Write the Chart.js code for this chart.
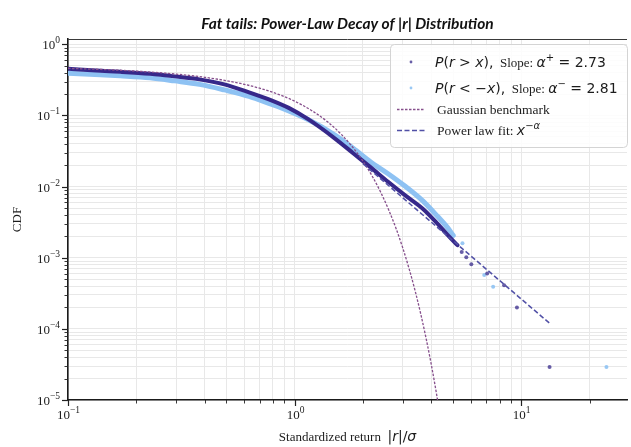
<!DOCTYPE html>
<html>
<head>
<meta charset="utf-8">
<title>Fat tails</title>
<script src="https://cdn.jsdelivr.net/npm/chart.js@4.4.1/dist/chart.umd.min.js"></script>
<style>
    html, body { margin: 0; padding: 0; background: #fff; overflow: hidden; }
    #wrap { width: 631px; height: 447px; position: relative; }
</style>
</head>
<body>
<div id="wrap"><canvas id="cdf"></canvas></div>
<script>
(function () {
    // Empirical tail CDF of positive returns, P(r > x)
    var posX = [0.1, 0.139, 0.17, 0.23, 0.295, 0.38, 0.489, 0.629, 0.769, 0.941, 1.15, 1.51, 1.81, 2.17, 2.58, 3.06, 3.67, 4.27, 4.72, 5.22];
    var posY = [0.453, 0.425, 0.411, 0.385, 0.355, 0.322, 0.274, 0.212, 0.169, 0.128, 0.088, 0.047, 0.0295, 0.0185, 0.0117, 0.0076, 0.0049, 0.0030, 0.0021, 0.0015];
    var posTailX = [5.45, 5.71, 6.01, 7.06, 8.38, 9.55, 13.3];
    var posTailY = [0.0012, 0.00102, 0.00081, 0.0006, 0.00041, 0.0002, 0.000029];

    // Empirical tail CDF of negative returns, P(r < -x)
    var negX = [0.1, 0.139, 0.17, 0.23, 0.295, 0.38, 0.489, 0.629, 0.769, 0.941, 1.15, 1.51, 1.81, 2.17, 2.58, 3.06, 3.67, 4.27, 4.72, 5.0];
    var negY = [0.392, 0.373, 0.361, 0.339, 0.307, 0.274, 0.229, 0.186, 0.148, 0.116, 0.087, 0.0527, 0.0346, 0.022, 0.0152, 0.0102, 0.0063, 0.0038, 0.00265, 0.00205];
    var negTailX = [5.49, 6.85, 7.5, 23.7];
    var negTailY = [0.0016, 0.00057, 0.00039, 0.000029];

    // Gaussian benchmark tail
    var gaussX = [0.1, 0.15, 0.2, 0.3, 0.4, 0.5, 0.6, 0.7, 0.8, 0.9, 1.0, 1.2, 1.4, 1.6, 1.8, 2.0, 2.2, 2.4, 2.6, 2.8, 3.0, 3.2, 3.4, 3.6, 3.8, 4.0, 4.2, 4.4];
    var gaussY = [0.4602, 0.4404, 0.4207, 0.3821, 0.3446, 0.3085, 0.2743, 0.2420, 0.2119, 0.1841, 0.1587, 0.1151, 0.0808, 0.0548, 0.0359, 0.02275, 0.0139, 0.0082, 0.00466, 0.00256, 0.00135, 0.000687, 0.000337, 0.000159, 0.0000723, 0.0000317, 0.0000133, 0.0000054];

    // Power law fit segment
    var fitX = [2.0, 13.3];
    var fitY = [0.021, 0.00012];

    var alphaPos = 2.73;
    var alphaNeg = 2.81;

    var xRange = [0.1, 29.2];
    var yRange = [1e-5, 1.19];

    var colors = {
        pos: '#36288a',
        posDot: 'rgba(54, 40, 138, 0.75)',
        neg: '#8ec2f3',
        negDot: 'rgba(142, 194, 243, 0.9)',
        gauss: '#864f8c',
        fit: '#5150a6',
        grid: '#e8e8e8',
        ink: '#1c1c1c'
    };

    var serif = '"Liberation Serif", "Times New Roman", serif';
    var mathIt = 'italic 14px "DejaVu Sans"';
    var mathRm = '14px "DejaVu Sans"';
    var mathSup = '10px "DejaVu Sans"';

    function pts(xs, ys) {
        return xs.map(function (x, i) { return { x: x, y: ys[i] }; });
    }

    function isDecade(v) {
        var e = Math.log10(v);
        return Math.abs(e - Math.round(e)) < 1e-9;
    }

    function exponent(v) {
        return String(Math.round(Math.log10(v))).replace('-', '\u2212');
    }

    function logTicks(lo, hi, min, max) {
        var out = [];
        for (var e = lo; e <= hi; e++) {
            for (var m = 1; m < 10; m++) {
                var v = m * Math.pow(10, e);
                if (v >= min * 0.9999 && v <= max) {
                    out.push({ value: v });
                }
            }
        }
        return out;
    }

    function drawRuns(ctx, x, y, runs) {
        runs.forEach(function (r) {
            ctx.font = r.f;
            ctx.fillText(r.t, x, y + (r.dy || 0));
            x += ctx.measureText(r.t).width;
        });
        return x;
    }

    function runsWidth(ctx, runs) {
        return runs.reduce(function (w, r) {
            ctx.font = r.f;
            return w + ctx.measureText(r.t).width;
        }, 0);
    }

    function powerRuns(v) {
        return [
            { t: '10', f: '13px ' + serif },
            { t: exponent(v), f: '9.5px ' + serif, dy: -6 }
        ];
    }

    function line(ctx, x1, y1, x2, y2) {
        ctx.beginPath();
        ctx.moveTo(x1, y1);
        ctx.lineTo(x2, y2);
        ctx.stroke();
    }

    // frame top edge, tick marks and labels, title, axis titles and legend
    var decor = {
        id: 'decor',
        afterDraw: function (chart) {
            var ctx = chart.ctx;
            var a = chart.chartArea;
            var xs = chart.scales.x;
            var ys = chart.scales.y;

            ctx.save();
            ctx.strokeStyle = '#3a3a3a';
            ctx.lineWidth = 1;
            line(ctx, a.left, a.top + 0.5, a.right, a.top + 0.5);

            ctx.strokeStyle = '#222';
            ctx.fillStyle = colors.ink;
            ctx.textAlign = 'left';
            ctx.textBaseline = 'alphabetic';
            xs.ticks.forEach(function (t) {
                var p = Math.round(xs.getPixelForValue(t.value)) + 0.5;
                var major = isDecade(t.value);
                ctx.lineWidth = major ? 1.2 : 0.9;
                line(ctx, p, a.bottom, p, a.bottom + (major ? 6 : 3.5));
                if (major) {
                    var runs = powerRuns(t.value);
                    drawRuns(ctx, p - runsWidth(ctx, runs) / 2, a.bottom + 19, runs);
                }
            });
            ys.ticks.forEach(function (t) {
                var p = Math.round(ys.getPixelForValue(t.value)) + 0.5;
                var major = isDecade(t.value);
                ctx.lineWidth = major ? 1.2 : 0.9;
                line(ctx, a.left, p, a.left - (major ? 6 : 3.5), p);
                if (major) {
                    var runs = powerRuns(t.value);
                    drawRuns(ctx, a.left - 8 - runsWidth(ctx, runs), p + 4.5, runs);
                }
            });

            // title
            ctx.fillStyle = '#111';
            ctx.textAlign = 'center';
            ctx.font = 'italic bold 15.5px Lato';
            ctx.fillText('Fat tails: Power-Law Decay of |r| Distribution', (a.left + a.right) / 2, 29);

            // axis titles
            ctx.textAlign = 'left';
            ctx.fillStyle = colors.ink;
            var xTitle = [
                { t: 'Standardized return  ', f: '13px ' + serif },
                { t: '|', f: mathRm },
                { t: 'r', f: mathIt },
                { t: '|/', f: mathRm },
                { t: '\u03c3', f: mathIt }
            ];
            drawRuns(ctx, (a.left + a.right) / 2 - runsWidth(ctx, xTitle) / 2, 441, xTitle);

            ctx.save();
            ctx.translate(21, (a.top + a.bottom) / 2);
            ctx.rotate(-Math.PI / 2);
            ctx.textAlign = 'center';
            ctx.font = '13px ' + serif;
            ctx.fillText('CDF', 0, 0);
            ctx.restore();

            // legend
            var bx = 390, by = 44, bw = 237, bh = 103;
            ctx.beginPath();
            ctx.roundRect(bx + 0.5, by + 0.5, bw, bh, 4);
            ctx.fillStyle = 'rgba(255, 255, 255, 0.85)';
            ctx.fill();
            ctx.strokeStyle = '#d4d4d4';
            ctx.lineWidth = 1;
            ctx.stroke();

            ctx.fillStyle = colors.posDot;
            ctx.beginPath();
            ctx.arc(411, 62, 1.4, 0, Math.PI * 2);
            ctx.fill();
            ctx.fillStyle = colors.negDot;
            ctx.beginPath();
            ctx.arc(411, 88, 1.4, 0, Math.PI * 2);
            ctx.fill();

            ctx.lineWidth = 1.3;
            ctx.strokeStyle = colors.gauss;
            ctx.setLineDash([2.5, 1.5]);
            line(ctx, 397, 109.5, 425, 109.5);
            ctx.strokeStyle = colors.fit;
            ctx.lineWidth = 1.5;
            ctx.setLineDash([5, 2.5]);
            line(ctx, 397, 130.5, 425, 130.5);
            ctx.setLineDash([]);

            ctx.fillStyle = colors.ink;
            var tx = 435;
            drawRuns(ctx, tx, 67, [
                { t: 'P', f: mathIt }, { t: '(', f: mathRm }, { t: 'r', f: mathIt }, { t: ' > ', f: mathRm },
                { t: 'x', f: mathIt }, { t: '),', f: mathRm }, { t: '  Slope: ', f: '13px ' + serif },
                { t: '\u03b1', f: mathIt }, { t: '+', f: mathSup, dy: -6 }, { t: ' = ' + alphaPos.toFixed(2), f: mathRm }
            ]);
            drawRuns(ctx, tx, 93, [
                { t: 'P', f: mathIt }, { t: '(', f: mathRm }, { t: 'r', f: mathIt }, { t: ' < \u2212', f: mathRm },
                { t: 'x', f: mathIt }, { t: '),', f: mathRm }, { t: '  Slope: ', f: '13px ' + serif },
                { t: '\u03b1', f: mathIt }, { t: '\u2212', f: mathSup, dy: -6 }, { t: ' = ' + alphaNeg.toFixed(2), f: mathRm }
            ]);
            drawRuns(ctx, tx + 2, 114, [{ t: 'Gaussian benchmark', f: '13.5px ' + serif }]);
            drawRuns(ctx, tx + 2, 135, [
                { t: 'Power law fit: ', f: '13.5px ' + serif },
                { t: 'x', f: mathIt }, { t: '\u2212\u03b1', f: 'italic 10px "DejaVu Sans"', dy: -6 }
            ]);
            ctx.restore();
        }
    };

    function axis(range, lo, hi, fit) {
        return {
            type: 'logarithmic',
            min: range[0],
            max: range[1],
            afterBuildTicks: function (scale) {
                scale.ticks = logTicks(lo, hi, range[0], range[1]);
            },
            afterFit: fit,
            ticks: { display: false, autoSkip: false },
            grid: { color: colors.grid, lineWidth: 1, drawTicks: false },
            border: { display: true, color: '#1a1a1a', width: 1.6 }
        };
    }

    new Chart(document.getElementById('cdf'), {
        type: 'scatter',
        data: {
            datasets: [
                {
                    label: 'P(r < -x) band',
                    data: pts(negX, negY),
                    showLine: true,
                    cubicInterpolationMode: 'monotone',
                    borderColor: colors.neg,
                    borderWidth: 5,
                    borderCapStyle: 'round',
                    borderJoinStyle: 'round',
                    pointRadius: 0,
                    order: 6
                },
                {
                    label: 'P(r > x) band',
                    data: pts(posX, posY),
                    showLine: true,
                    cubicInterpolationMode: 'monotone',
                    borderColor: colors.pos,
                    borderWidth: 4,
                    borderCapStyle: 'round',
                    borderJoinStyle: 'round',
                    pointRadius: 0,
                    order: 5
                },
                {
                    label: 'P(r < -x)',
                    data: pts(negTailX, negTailY),
                    pointRadius: 2,
                    pointBorderWidth: 0,
                    backgroundColor: colors.negDot,
                    order: 4
                },
                {
                    label: 'P(r > x)',
                    data: pts(posTailX, posTailY),
                    pointRadius: 2,
                    pointBorderWidth: 0,
                    backgroundColor: colors.posDot,
                    order: 3
                },
                {
                    label: 'Gaussian benchmark',
                    data: pts(gaussX, gaussY),
                    showLine: true,
                    cubicInterpolationMode: 'monotone',
                    borderColor: colors.gauss,
                    borderWidth: 1.3,
                    borderDash: [2.5, 1.5],
                    pointRadius: 0,
                    order: 2
                },
                {
                    label: 'Power law fit',
                    data: pts(fitX, fitY),
                    showLine: true,
                    borderColor: colors.fit,
                    borderWidth: 1.5,
                    borderDash: [5, 2.5],
                    pointRadius: 0,
                    order: 1
                }
            ]
        },
        options: {
            responsive: true,
            maintainAspectRatio: false,
            animation: false,
            events: [],
            layout: { padding: { top: 39, right: 0, bottom: 0, left: 0 } },
            plugins: {
                legend: { display: false },
                title: { display: false },
                tooltip: { enabled: false }
            },
            scales: {
                x: axis(xRange, -1, 1, function (s) {
                    s.height = 47;
                    s.paddingLeft = 0;
                    s.paddingRight = 0;
                }),
                y: axis(yRange, -5, 0, function (s) {
                    s.width = 68;
                    s.paddingTop = 0;
                    s.paddingBottom = 0;
                })
            }
        },
        plugins: [decor]
    });
}());
</script>
</body>
</html>
